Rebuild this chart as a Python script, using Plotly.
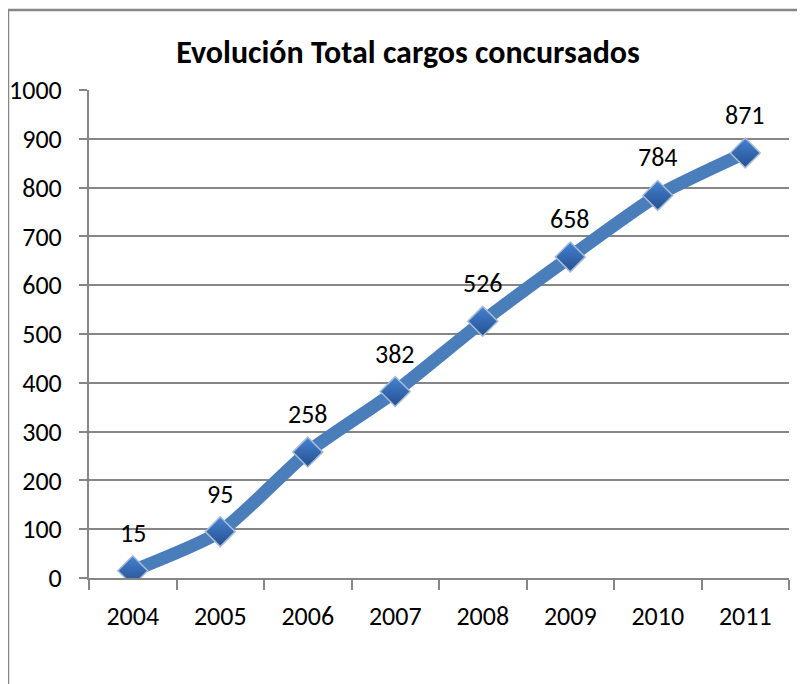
import plotly.graph_objects as go

years = ["2004", "2005", "2006", "2007", "2008", "2009", "2010", "2011"]
totals = [15, 95, 258, 382, 526, 658, 784, 871]
y_ticks = [0, 100, 200, 300, 400, 500, 600, 700, 800, 900, 1000]

FONT = "Carlito, Calibri, Lato, sans-serif"
GRAY = "#868686"

# page has an 8px body margin; figure sized to fit the 805x684 window
OFF = 8
W, H = 805 - OFF, 684 - OFF
L, R, T, B = 89 - OFF, 16, 90 - OFF, 106
pw, ph = W - L - R, H - T - B

def px_x(px):
    return (px - OFF - L) / pw

def px_y(py):
    return (H - B - (py - OFF)) / ph

fig = go.Figure()
fig.add_trace(go.Scatter(
    x=years, y=totals, mode="lines+markers",
    line=dict(color="#4A7EBB", width=13, shape="spline", smoothing=0.6),
    marker=dict(symbol="diamond", size=23, color="#4682D2",
                gradient=dict(type="vertical", color="#24508F"),
                line=dict(color="#A7BAD6", width=1.5)),
    hoverinfo="skip", showlegend=False,
))

annotations = [
    dict(x=i, y=yv, xref="x", yref="y", text=str(yv), showarrow=False,
         yshift=38, font=dict(family=FONT, size=26, color="black"))
    for i, yv in enumerate(totals)
]

shapes = [
    dict(type="line", xref="paper", yref="paper",
         x0=px_x(8), x1=px_x(8), y0=px_y(720), y1=px_y(10),
         line=dict(color=GRAY, width=2.5)),
    dict(type="line", xref="paper", yref="paper",
         x0=px_x(8), x1=px_x(840), y0=px_y(10), y1=px_y(10),
         line=dict(color=GRAY, width=2.5)),
]

fig.update_layout(
    width=W, height=H,
    margin=dict(l=L, r=R, t=T, b=B),
    paper_bgcolor="white", plot_bgcolor="white",
    title=dict(text="<b>Evolución Total cargos concursados</b>",
               x=(408 - OFF) / W, xref="container", xanchor="center",
               y=1 - (52 - OFF) / H, yref="container", yanchor="middle",
               font=dict(family=FONT, size=32, color="black")),
    annotations=annotations,
    shapes=shapes,
    xaxis=dict(type="category", range=[-0.5, 7.5], automargin=False,
               showline=True, linecolor=GRAY, linewidth=2,
               ticks="outside", tickson="boundaries", ticklen=10,
               tickcolor=GRAY, tickwidth=2, showgrid=False,
               ticklabelstandoff=14,
               tickfont=dict(family=FONT, size=26, color="black")),
    yaxis=dict(range=[0, 1000], tickvals=y_ticks, automargin=False,
               showline=True, linecolor=GRAY, linewidth=2,
               ticks="outside", ticklen=8, tickcolor=GRAY, tickwidth=2,
               showgrid=True, gridcolor=GRAY, gridwidth=2,
               zeroline=False, ticklabelstandoff=12,
               tickfont=dict(family=FONT, size=26, color="black")),
)

fig.write_html("out.html")
